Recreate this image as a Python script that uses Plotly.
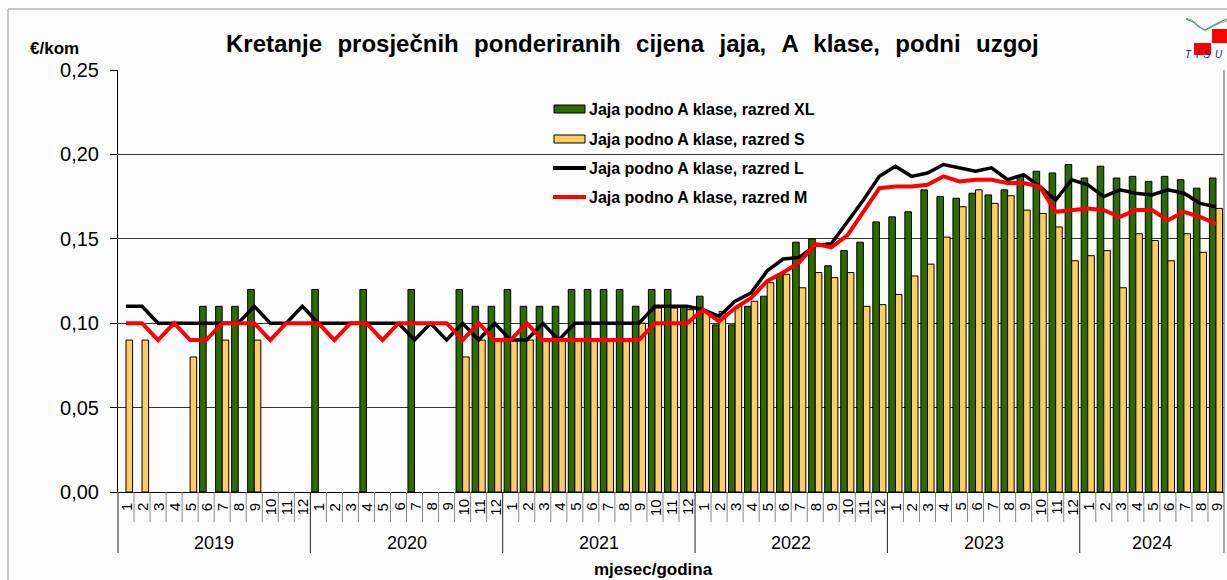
import plotly.graph_objects as go

# ---------------- data ----------------
years = ["2019", "2020", "2021", "2022", "2023", "2024"]
months_per_year = [12, 12, 12, 12, 12, 9]
month_labels = [str(m) for n in months_per_year for m in range(1, n + 1)]

xl = [None, None, None, None, None, 0.11, 0.11, 0.11, 0.12, None, None, None,
      0.12, None, None, 0.12, None, None, 0.12, None, None, 0.12, 0.11, 0.11,
      0.12, 0.11, 0.11, 0.11, 0.12, 0.12, 0.12, 0.12, 0.11, 0.12, 0.12, 0.11,
      0.116, 0.099, 0.099, 0.110, 0.116, 0.129, 0.148, 0.150, 0.134, 0.143, 0.148, 0.160,
      0.163, 0.166, 0.179, 0.175, 0.174, 0.177, 0.176, 0.179, 0.187, 0.190, 0.189, 0.194,
      0.186, 0.193, 0.186, 0.187, 0.184, 0.187, 0.185, 0.180, 0.186]

s = [0.09, 0.09, None, None, 0.08, None, 0.09, None, 0.09, None, None, None,
     None, None, None, None, None, None, None, None, None, 0.08, 0.09, 0.09,
     0.09, 0.09, 0.09, 0.09, 0.09, 0.09, 0.09, 0.09, 0.10, 0.109, 0.109, 0.108,
     0.107, 0.107, 0.110, 0.113, 0.124, 0.129, 0.121, 0.130, 0.127, 0.130, 0.110, 0.111,
     0.117, 0.128, 0.135, 0.151, 0.169, 0.179, 0.171, 0.1755, 0.167, 0.165, 0.157, 0.137,
     0.140, 0.143, 0.121, 0.153, 0.149, 0.137, 0.153, 0.142, 0.168]

l = [0.11, 0.11, 0.10, 0.10, 0.10, 0.10, 0.10, 0.10, 0.11, 0.10, 0.10, 0.11,
     0.10, 0.10, 0.10, 0.10, 0.10, 0.10, 0.09, 0.10, 0.09, 0.10, 0.09, 0.10,
     0.09, 0.09, 0.10, 0.09, 0.10, 0.10, 0.10, 0.10, 0.10, 0.11, 0.11, 0.11,
     0.108, 0.104, 0.113, 0.118, 0.131, 0.138, 0.139, 0.146, 0.147, 0.160, 0.173, 0.187,
     0.193, 0.187, 0.189, 0.194, 0.192, 0.190, 0.192, 0.185, 0.188, 0.181, 0.173, 0.185,
     0.182, 0.175, 0.179, 0.177, 0.176, 0.179, 0.177, 0.171, 0.169]

m = [0.10, 0.10, 0.09, 0.10, 0.09, 0.09, 0.10, 0.10, 0.10, 0.09, 0.10, 0.10,
     0.10, 0.09, 0.10, 0.10, 0.09, 0.10, 0.10, 0.10, 0.10, 0.09, 0.10, 0.09,
     0.09, 0.10, 0.09, 0.09, 0.09, 0.09, 0.09, 0.09, 0.09, 0.10, 0.10, 0.10,
     0.108, 0.101, 0.109, 0.115, 0.125, 0.130, 0.136, 0.147, 0.145, 0.152, 0.166, 0.180,
     0.181, 0.181, 0.182, 0.187, 0.184, 0.185, 0.185, 0.183, 0.183, 0.181, 0.166, 0.167,
     0.168, 0.167, 0.163, 0.167, 0.167, 0.161, 0.166, 0.163, 0.159]

series_names = ["Jaja podno A klase, razred XL", "Jaja podno A klase, razred S",
                "Jaja podno A klase, razred L", "Jaja podno A klase, razred M"]
y_ticks = [0, 0.05, 0.10, 0.15, 0.20, 0.25]

# ---------------- styling ----------------
GREEN = "#2d6a00"
YELLOW = "#ffcc66"
BG = "#fcfcfc"
FONT = "Liberation Sans, Arial, sans-serif"

W, H = 1227, 580
ML, MR, MT, MB = 118, 3, 70, 88
PW = W - ML - MR
PH = H - MT - MB
n = len(month_labels)
x = list(range(n))


def px(xp):  # pixel x -> paper
    return (xp - ML) / PW


def py(yp):  # pixel y -> paper
    return (H - MB - yp) / PH


def xi(edge):  # category edge index -> paper
    return (edge + 0.5) / n


fig = go.Figure()
fig.add_trace(go.Bar(x=x, y=xl, name=series_names[0], marker=dict(color=GREEN, line=dict(color="black", width=1))))
fig.add_trace(go.Bar(x=x, y=s, name=series_names[1], marker=dict(color=YELLOW, line=dict(color="black", width=1))))
fig.add_trace(go.Scatter(x=x, y=l, name=series_names[2], mode="lines", line=dict(color="black", width=3.5)))
fig.add_trace(go.Scatter(x=x, y=m, name=series_names[3], mode="lines", line=dict(color="#ff0000", width=4)))

shapes = []
annotations = []

# category separators & labels
edge = 0
for yi, (yr, cnt) in enumerate(zip(years, months_per_year)):
    shapes.append(dict(type="line", xref="paper", yref="paper", x0=xi(edge - 0.5), x1=xi(edge - 0.5),
                       y0=0, y1=py(553), line=dict(color="#222", width=1)))
    for k in range(1, cnt):
        e = edge + k - 0.5
        shapes.append(dict(type="line", xref="paper", yref="paper", x0=xi(e), x1=xi(e),
                           y0=0, y1=py(522), line=dict(color="#888", width=1)))
    annotations.append(dict(text=yr, xref="paper", yref="paper", x=xi(edge - 0.5 + cnt / 2), y=py(543),
                            showarrow=False, xanchor="center", yanchor="middle",
                            font=dict(family=FONT, size=18, color="black")))
    edge += cnt
# right edge line
shapes.append(dict(type="line", xref="paper", yref="paper", x0=1, x1=1, y0=py(553), y1=1,
                   line=dict(color="#555", width=1)))

for i, lab in enumerate(month_labels):
    annotations.append(dict(text=lab, xref="paper", yref="paper", x=xi(i), y=py(507), textangle=-90,
                            showarrow=False, xanchor="center", yanchor="middle",
                            font=dict(family=FONT, size=15, color="black")))

# outer frame
shapes.append(dict(type="line", xref="paper", yref="paper", x0=px(8), x1=px(W), y0=py(9), y1=py(9),
                   line=dict(color="#999", width=1)))
shapes.append(dict(type="line", xref="paper", yref="paper", x0=px(8), x1=px(8), y0=py(9), y1=py(H),
                   line=dict(color="#999", width=1)))

# custom legend
leg_y = [109, 139, 168, 197]
for j, (name, yy) in enumerate(zip(series_names, leg_y)):
    if j < 2:
        shapes.append(dict(type="rect", xref="paper", yref="paper", x0=px(554), x1=px(585),
                           y0=py(yy + 4), y1=py(yy - 4), fillcolor=[GREEN, YELLOW][j],
                           line=dict(color="black", width=1)))
    else:
        shapes.append(dict(type="line", xref="paper", yref="paper", x0=px(553), x1=px(586),
                           y0=py(yy), y1=py(yy),
                           line=dict(color=["black", "#ff0000"][j - 2], width=4)))
    annotations.append(dict(text="<b>" + name + "</b>", xref="paper", yref="paper", x=px(587), y=py(yy),
                            showarrow=False, xanchor="left", yanchor="middle",
                            font=dict(family=FONT, size=16, color="black")))

# title, axis titles
gap = " \u00a0\u200a"
title_text = gap.join(["Kretanje", "prosječnih", "ponderiranih", "cijena", "jaja,", "A", "klase,", "podni", "uzgoj"])
annotations.append(dict(text="<b>" + title_text + "</b>",
                        xref="paper", yref="paper", x=px(632), y=py(44), showarrow=False,
                        xanchor="center", yanchor="middle", font=dict(family=FONT, size=24, color="black")))
annotations.append(dict(text="<b>€/kom</b>", xref="paper", yref="paper", x=px(54), y=py(48), showarrow=False,
                        xanchor="center", yanchor="middle", font=dict(family=FONT, size=17, color="black")))
annotations.append(dict(text="<b>mjesec/godina</b>", xref="paper", yref="paper", x=px(653), y=py(569),
                        showarrow=False, xanchor="center", yanchor="middle",
                        font=dict(family=FONT, size=17, color="black")))

# logo approximation (TISUP)
shapes.append(dict(type="rect", xref="paper", yref="paper", x0=px(1212), x1=px(1227), y0=py(43), y1=py(29),
                   fillcolor="#ff0000", line=dict(width=0)))
shapes.append(dict(type="rect", xref="paper", yref="paper", x0=px(1194), x1=px(1211), y0=py(55), y1=py(43),
                   fillcolor="#ff0000", line=dict(width=0)))


def logo_path(pts):
    return "M " + " L ".join(f"{px(a)},{py(b)}" for a, b in pts)


shapes.append(dict(type="path", xref="paper", yref="paper",
                   path=logo_path([(1186, 18), (1192, 20), (1198, 25), (1205, 31), (1212, 27), (1220, 23), (1227, 21)]),
                   line=dict(color="#44dd44", width=1)))
shapes.append(dict(type="path", xref="paper", yref="paper",
                   path=logo_path([(1186, 19), (1193, 22), (1199, 27), (1205, 30), (1212, 26), (1220, 22), (1227, 19)]),
                   line=dict(color="#6655aa", width=1)))
annotations.append(dict(text="<i>T\u2009 I\u2009 S\u2009 U</i>", xref="paper", yref="paper", x=px(1225), y=py(54),
                        showarrow=False, xanchor="right", yanchor="middle",
                        font=dict(family=FONT, size=10, color="#1a1a8c")))

fig.update_layout(
    width=W, height=H,
    margin=dict(l=ML, r=MR, t=MT, b=MB, pad=0),
    paper_bgcolor=BG, plot_bgcolor=BG,
    barmode="group", bargap=0.18, bargroupgap=0,
    showlegend=False,
    separators=", ",
    shapes=shapes, annotations=annotations,
    font=dict(family=FONT, color="black"),
    xaxis=dict(range=[-0.5, n - 0.5], showticklabels=False, ticks="", showgrid=False,
               showline=True, linecolor="black", linewidth=1, zeroline=False),
    yaxis=dict(range=[0, 0.25], tickvals=y_ticks, tickformat=".2f", ticks="outside", ticklen=7,
               tickcolor="black", showline=True, linecolor="black", linewidth=1,
               showgrid=True, gridcolor="#333", gridwidth=1, zeroline=False,
               ticklabelstandoff=7,
               tickfont=dict(family=FONT, size=20, color="black")),
)

fig.write_html("out.html", config={"displayModeBar": False},
               post_script="document.body.style.margin='0';")
